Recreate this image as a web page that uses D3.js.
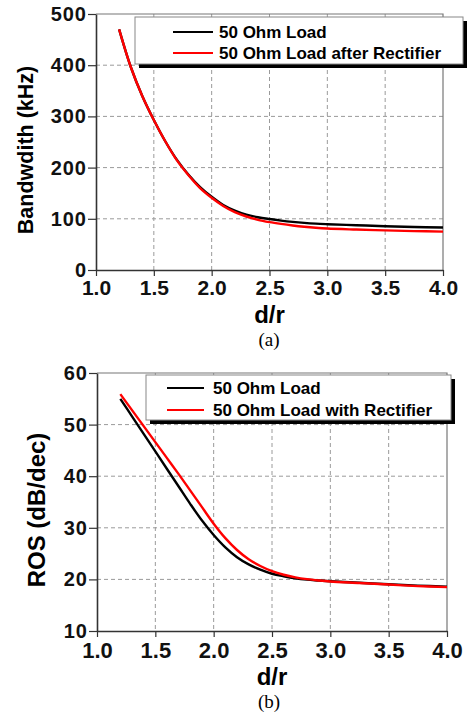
<!DOCTYPE html>
<html>
<head>
<meta charset="utf-8">
<script src="https://cdn.jsdelivr.net/npm/d3@7"></script>
<style>
  body { margin: 0; background: #fff; }
  svg { display: block; }
  .tick text { font-family: "Liberation Sans", Arial, sans-serif; font-weight: bold; fill: #111; }
  .grid line { stroke: #9a9a9a; stroke-dasharray: 4,3; stroke-width: 1; }
</style>
</head>
<body>
<svg id="chart" width="469" height="715"></svg>
<script>
// d/r sample points
const dr = [1.2, 1.3, 1.4, 1.5, 1.6, 1.7, 1.8, 1.9, 2.0, 2.1, 2.2, 2.3, 2.4, 2.5,
            2.6, 2.7, 2.8, 2.9, 3.0, 3.25, 3.5, 3.75, 4.0];

// (a) bandwidth, kHz
const bwLoad = [470, 397, 340, 293, 251, 215, 186, 162, 143, 127, 116, 108, 103, 99.5,
                96.5, 94, 92, 90.5, 89.5, 87.5, 85.5, 84, 83];
const bwRectifier = [470, 397, 340, 293, 251, 214, 185, 160, 141, 125, 113, 104.5, 98, 93.5,
                     90, 87, 84.5, 82.5, 81, 79, 77.3, 76, 75];

// (b) ROS, dB/dec
const rosLoad = [55.0, 51.6, 48.2, 44.8, 41.4, 38.0, 34.6, 31.4, 28.6, 26.2, 24.3, 22.9, 21.9, 21.1,
                 20.6, 20.2, 19.95, 19.8, 19.65, 19.35, 19.05, 18.8, 18.6];
const rosRectifier = [55.9, 52.8, 49.7, 46.6, 43.5, 40.4, 37.2, 34.0, 30.8, 28.0, 25.7, 23.9, 22.6, 21.6,
                      20.9, 20.4, 20.05, 19.8, 19.6, 19.3, 19.0, 18.7, 18.5];

const xTicks = [1.0, 1.5, 2.0, 2.5, 3.0, 3.5, 4.0];
const bwTicks = [0, 100, 200, 300, 400, 500];
const rosTicks = [10, 20, 30, 40, 50, 60];

const svg = d3.select('#chart');

function drawPanel(p) {
  const x = d3.scaleLinear().domain([1, 4]).range([p.left, p.right]);
  const y = d3.scaleLinear().domain(p.yDomain).range([p.bottom, p.top]);
  const g = svg.append('g');

  // dashed grid
  const grid = g.append('g').classed('grid', true);
  grid.selectAll('line.v')
      .data(xTicks.slice(1, -1))
      .enter().append('line')
      .attr('x1', d => x(d)).attr('x2', d => x(d))
      .attr('y1', p.top).attr('y2', p.bottom);
  grid.selectAll('line.h')
      .data(p.yTicks.slice(1, -1))
      .enter().append('line')
      .attr('x1', p.left).attr('x2', p.right)
      .attr('y1', d => y(d)).attr('y2', d => y(d));

  // top and right frame
  g.append('path')
   .attr('d', `M${p.left},${p.top}H${p.right}V${p.bottom}`)
   .attr('fill', 'none').attr('stroke', '#777').attr('stroke-width', 1.2);

  // curves
  const line = d3.line()
                 .x((d, i) => x(dr[i]))
                 .y(d => y(d))
                 .curve(d3.curveCatmullRom.alpha(0.5));
  g.append('path').datum(p.black)
   .attr('d', line).attr('fill', 'none')
   .attr('stroke', '#000').attr('stroke-width', 2.4);
  g.append('path').datum(p.red)
   .attr('d', line).attr('fill', 'none')
   .attr('stroke', '#ff0000').attr('stroke-width', 2.4);

  // axes
  const yAxis = g.append('g')
                 .attr('transform', `translate(${p.left},0)`)
                 .call(d3.axisLeft(y).tickValues(p.yTicks).tickSize(8).tickPadding(1).tickSizeOuter(0));
  yAxis.selectAll('text').style('font-size', '20px').style('letter-spacing', '1px');

  const xAxis = g.append('g')
                 .attr('transform', `translate(0,${p.bottom})`)
                 .call(d3.axisBottom(x).tickValues(xTicks).tickFormat(d3.format('.1f'))
                         .tickSize(6).tickSizeOuter(0));
  xAxis.selectAll('text')
       .attr('y', p.xLabelBase).attr('dy', null)
       .style('font-size', p.xTickFont + 'px');

  [yAxis, xAxis].forEach(a => {
    a.select('.domain').attr('stroke', '#333').attr('stroke-width', 1.6);
    a.selectAll('.tick line').attr('stroke', '#333').attr('stroke-width', 1.2);
  });

  // axis titles
  g.append('text')
   .text(p.yTitle)
   .attr('transform', `translate(${p.yTitleX},${p.yTitleMid}) rotate(-90)`)
   .attr('text-anchor', 'middle')
   .style('font-family', '"Liberation Sans", Arial, sans-serif')
   .style('font-weight', 'bold')
   .style('font-size', p.yTitleFont + 'px');
  g.append('text')
   .text('d/r')
   .attr('x', (p.left + p.right) / 2).attr('y', p.xTitleY)
   .attr('text-anchor', 'middle')
   .style('font-family', '"Liberation Sans", Arial, sans-serif')
   .style('font-weight', 'bold')
   .style('font-size', '24px');

  // legend with drop shadow
  const lg = p.legend;
  g.append('rect')
   .attr('x', lg.x + 4).attr('y', lg.y + 4)
   .attr('width', lg.w).attr('height', lg.h)
   .attr('fill', '#000');
  g.append('rect')
   .attr('x', lg.x).attr('y', lg.y)
   .attr('width', lg.w).attr('height', lg.h)
   .attr('fill', '#fff').attr('stroke', '#888').attr('stroke-width', 1);
  const entries = g.selectAll('g.entry')
                   .data(p.names)
                   .enter().append('g')
                   .attr('transform', (d, i) => `translate(0,${lg.row0 + i * lg.rowGap})`);
  entries.append('line')
         .attr('x1', lg.lineX1).attr('x2', lg.lineX2)
         .attr('stroke', (d, i) => i === 0 ? '#000' : '#ff0000')
         .attr('stroke-width', 2.2);
  entries.append('text')
         .text(d => d)
         .attr('x', lg.textX).attr('dy', '0.36em')
         .style('font-family', '"Liberation Sans", Arial, sans-serif')
         .style('font-weight', 'bold')
         .style('font-size', '17px');

  // caption
  g.append('text')
   .text(p.caption)
   .attr('x', 269).attr('y', p.captionY)
   .attr('text-anchor', 'middle')
   .style('font-family', '"Liberation Serif", "Times New Roman", serif')
   .style('font-size', '19px');
}

drawPanel({
  left: 96, right: 443, top: 14, bottom: 270,
  yDomain: [0, 500], yTicks: bwTicks,
  black: bwLoad, red: bwRectifier,
  xLabelBase: 25, xTickFont: 21,
  yTitle: 'Bandwdith (kHz)', yTitleX: 33, yTitleMid: 150, yTitleFont: 21.5,
  xTitleY: 323,
  legend: { x: 135, y: 17, w: 328, h: 47, row0: 32, rowGap: 21,
            lineX1: 173, lineX2: 213, textX: 219 },
  names: ['50 Ohm Load', '50 Ohm Load after Rectifier'],
  caption: '(a)', captionY: 346
});

drawPanel({
  left: 97, right: 447, top: 373, bottom: 631,
  yDomain: [10, 60], yTicks: rosTicks,
  black: rosLoad, red: rosRectifier,
  xLabelBase: 27, xTickFont: 22,
  yTitle: 'ROS (dB/dec)', yTitleX: 45, yTitleMid: 510, yTitleFont: 24,
  xTitleY: 685,
  legend: { x: 146, y: 375, w: 305, h: 45, row0: 388, rowGap: 22,
            lineX1: 167, lineX2: 204, textX: 213 },
  names: ['50 Ohm Load', '50 Ohm Load with Rectifier'],
  caption: '(b)', captionY: 708
});
</script>
</body>
</html>
